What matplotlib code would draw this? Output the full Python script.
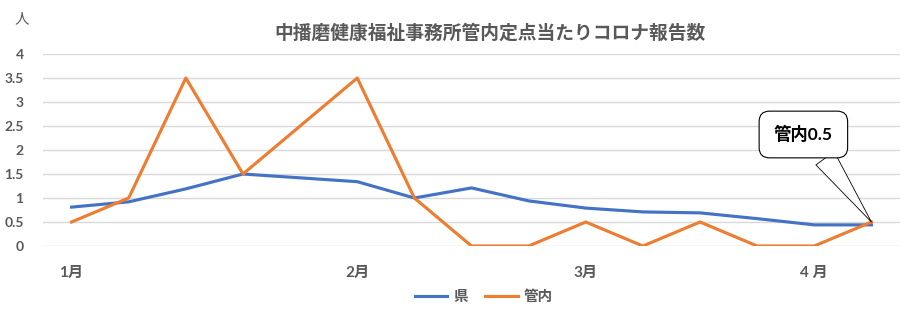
import matplotlib
matplotlib.use("Agg")
import matplotlib.pyplot as plt

plt.rcParams['font.family'] = ['Lato', 'Noto Sans CJK JP', 'DejaVu Sans']

weeks = list(range(15))
ken = [0.81, 0.92, 1.19, 1.50, 1.42, 1.34, 1.00, 1.21, 0.94, 0.79, 0.71, 0.69, 0.57, 0.44, 0.44]
kannai = [0.5, 1.0, 3.5, 1.5, 2.5, 3.5, 1.0, 0.0, 0.0, 0.5, 0.0, 0.5, 0.0, 0.0, 0.5]
month_pos = [0, 5, 9, 13]
month_labels = ['1月', '2月', '3月', '4 月']
yticks = [0, 0.5, 1, 1.5, 2, 2.5, 3, 3.5, 4]
ytick_labels = ['0', '0.5', '1', '1.5', '2', '2.5', '3', '3.5', '4']
title = '中播磨健康福祉事務所管内定点当たりコロナ報告数'

W, H = 907, 332
fig = plt.figure(figsize=(W / 100, H / 100), dpi=100)
ax = fig.add_axes([43 / W, 1 - 246 / H, (900 - 43) / W, (246 - 54) / H])

gray = '#595959'
blue = '#4472C4'
orange = '#ED7D31'

ax.plot(weeks, ken, color=blue, lw=2.25, label='県', solid_joinstyle='round', zorder=3)
ax.plot(weeks, kannai, color=orange, lw=2.25, label='管内', solid_joinstyle='round', zorder=3)

ax.set_xlim(-0.5, 14.5)
ax.set_ylim(0, 4)
ax.set_yticks(yticks)
ax.set_yticklabels(ytick_labels)
ax.set_xticks(month_pos)
ax.set_xticklabels(month_labels)
ax.tick_params(axis='y', length=0, labelcolor=gray, labelsize=10, pad=14)
ax.tick_params(axis='x', length=0, labelcolor=gray, labelsize=11, pad=14)
for lab in ax.get_xticklabels() + ax.get_yticklabels():
    lab.set_fontweight('bold')
ax.grid(axis='y', color='#d9d9d9', lw=1)
ax.set_axisbelow(True)
for s in ax.spines.values():
    s.set_visible(False)

fig.text(490 / W, 1 - 32 / H, title, ha='center', va='center', fontsize=13.5,
         fontweight='bold', color=gray)
fig.text(22 / W, 1 - 19 / H, '人', ha='center', va='center', fontsize=10.5, color=gray)

fig.legend(loc='center', bbox_to_anchor=(484 / W, 1 - 297 / H), ncol=2, frameon=False,
           labelcolor=gray, handlelength=2.2, columnspacing=1.2,
           handletextpad=0.4, prop={'weight': 'bold', 'size': 10.5})

ax.annotate('管内0.5', xy=(weeks[-1], kannai[-1]), xytext=(-49, 63), textcoords='offset points',
            ha='center', va='center', fontsize=12.5, fontweight='bold', color='black',
            bbox=dict(boxstyle='round,pad=0.85,rounding_size=0.6', fc='white', ec='black', lw=0.8),
            arrowprops=dict(arrowstyle='wedge,tail_width=1.3,shrink_factor=0.5', fc='white',
                            ec='black', lw=0.6, shrinkA=0, shrinkB=0, relpos=(0.68, 0.0)),
            zorder=5)

fig.savefig('out.png', dpi=100)
